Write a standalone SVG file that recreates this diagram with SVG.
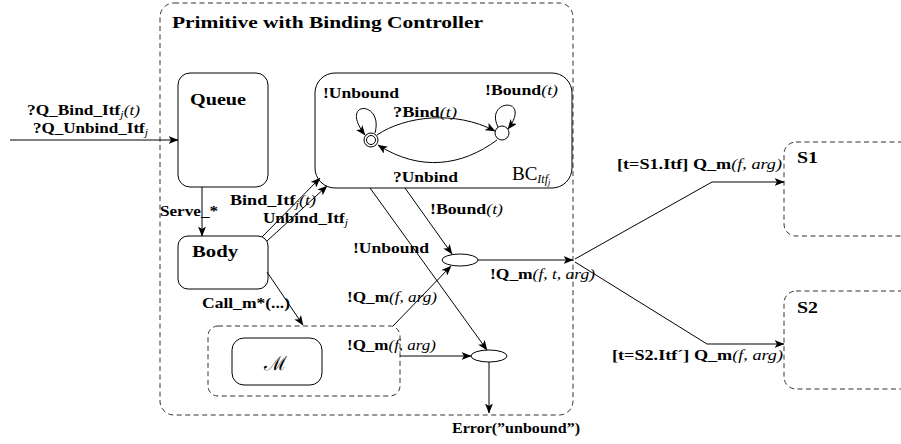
<svg xmlns="http://www.w3.org/2000/svg" width="901" height="444" viewBox="0 0 901 444">
<style>
text{font-family:"Liberation Serif","Times New Roman",serif;font-weight:bold;font-size:14.5px;fill:#000}
.t{font-size:16px}
.big{font-size:17.5px}
.i{font-style:italic;font-weight:normal}
.r{font-weight:normal}
.s{font-size:10px;font-style:italic;font-weight:normal}
.box{fill:none;stroke:#000;stroke-width:1}
.dash{fill:none;stroke:#333;stroke-width:1;stroke-dasharray:5 3.5}
.ln{fill:none;stroke:#000;stroke-width:1}
.arr{marker-end:url(#a)}
</style>
<defs>
<marker id="a" viewBox="0 0 10 8" refX="9.5" refY="4" markerWidth="10" markerHeight="8" orient="auto" markerUnits="userSpaceOnUse">
<path d="M0,0 L10,4 L0,8 L2.5,4 z" fill="#000"/>
</marker>
</defs>
<rect width="901" height="444" fill="#fff"/>

<g id="primitive">
<rect class="dash" x="160" y="3" width="413" height="412" rx="14"/>
<text class="t" x="172" y="28" textLength="311" lengthAdjust="spacingAndGlyphs">Primitive with Binding Controller</text>
</g>

<g id="queue">
<rect class="box" x="178" y="73" width="90" height="114" rx="12"/>
<text class="big" x="190" y="105" textLength="56" lengthAdjust="spacingAndGlyphs">Queue</text>
</g>

<g id="body">
<rect class="box" x="178" y="236" width="90" height="53" rx="10"/>
<text class="big" x="192" y="257" textLength="46" lengthAdjust="spacingAndGlyphs">Body</text>
</g>

<g id="bc">
<rect class="box" x="315" y="73" width="257" height="115" rx="20"/>
<circle class="box" cx="371" cy="140" r="7"/>
<circle class="box" cx="371" cy="140" r="4.5"/>
<circle class="box" cx="502" cy="133" r="7"/>
<path class="ln arr" d="M377,135 C405,116 455,110 495,131"/>
<path class="ln arr" d="M497,140 C462,166 420,172 378,145"/>
<path class="ln arr" d="M375,133 C384,100 338,100 365,135"/>
<path class="ln arr" d="M498,127 C484,99 533,96 508,129"/>
<text x="323" y="98" textLength="76" lengthAdjust="spacingAndGlyphs">!Unbound</text>
<text x="485" y="95" textLength="73" lengthAdjust="spacingAndGlyphs">!Bound<tspan class="i">(t)</tspan></text>
<text x="393" y="117" textLength="64" lengthAdjust="spacingAndGlyphs">?Bind<tspan class="i">(t)</tspan></text>
<text x="393" y="182" textLength="65" lengthAdjust="spacingAndGlyphs">?Unbind</text>
<text x="512" y="180" class="r" style="font-size:19px">BC<tspan class="s" dy="3" style="font-size:12px">Itf</tspan><tspan class="s" dy="2" style="font-size:8.5px">j</tspan></text>
</g>

<g id="m">
<rect class="dash" x="208" y="326" width="192" height="70" rx="10"/>
<rect class="box" x="232" y="338" width="90" height="47" rx="12"/>
<text x="264" y="370" class="i" style="font-family:'DejaVu Serif','Noto Sans',serif;font-size:20px">ℳ</text>
</g>

<g id="join1">
<ellipse class="box" cx="460" cy="260" rx="18" ry="6"/>
</g>
<g id="join2">
<ellipse class="box" cx="489" cy="356" rx="18" ry="6"/>
</g>

<g id="s1">
<rect class="dash" x="784" y="142" width="150" height="94" rx="12"/>
<text class="t" x="797" y="163" textLength="21" lengthAdjust="spacingAndGlyphs">S1</text>
</g>
<g id="s2">
<rect class="dash" x="784" y="291" width="150" height="98" rx="12"/>
<text class="t" x="797" y="313" textLength="21" lengthAdjust="spacingAndGlyphs">S2</text>
</g>

<g id="connectors">
<path class="ln arr" d="M10,140 H178"/>
<path class="ln arr" d="M202,187 V236"/>
<path class="ln arr" d="M262,237 L320,178"/>
<path class="ln arr" d="M267,241 L327,186"/>
<path class="ln arr" d="M267,272 L303,325"/>
<path class="ln arr" d="M405,188 L452,254"/>
<path class="ln arr" d="M370,188 L487,350"/>
<path class="ln arr" d="M393,326 L451,266"/>
<path class="ln arr" d="M400,356 H471"/>
<path class="ln arr" d="M489,362 V413"/>
<path class="ln arr" d="M478,260 H573"/>
<path class="ln arr" d="M575,259 L712,182 H784"/>
<path class="ln arr" d="M575,262 L707,344 H784"/>
</g>

<g id="labels">
<text x="27" y="115" textLength="113" lengthAdjust="spacingAndGlyphs">?Q_Bind_Itf<tspan class="s" dy="3">j</tspan><tspan class="i" dy="-3">(t)</tspan></text>
<text x="33" y="133" textLength="115" lengthAdjust="spacingAndGlyphs">?Q_Unbind_Itf<tspan class="s" dy="3">j</tspan></text>
<text x="160" y="216" textLength="58" lengthAdjust="spacingAndGlyphs">Serve_*</text>
<text x="230" y="205" textLength="86" lengthAdjust="spacingAndGlyphs">Bind_Itf<tspan class="s" dy="3">j</tspan><tspan class="i" dy="-3">(t)</tspan></text>
<text x="263" y="223" textLength="85" lengthAdjust="spacingAndGlyphs">Unbind_Itf<tspan class="s" dy="3">j</tspan></text>
<text x="202" y="308" textLength="88" lengthAdjust="spacingAndGlyphs">Call_m*(...)</text>
<text x="430" y="214" textLength="73" lengthAdjust="spacingAndGlyphs">!Bound<tspan class="i">(t)</tspan></text>
<text x="353" y="253" textLength="76" lengthAdjust="spacingAndGlyphs">!Unbound</text>
<text x="347" y="302" textLength="90" lengthAdjust="spacingAndGlyphs">!Q_m<tspan class="i">(f, arg)</tspan></text>
<text x="347" y="350" textLength="89" lengthAdjust="spacingAndGlyphs">!Q_m<tspan class="i">(f, arg)</tspan></text>
<text x="490" y="279" textLength="105" lengthAdjust="spacingAndGlyphs">!Q_m<tspan class="i">(f, t, arg)</tspan></text>
<text x="452" y="433" textLength="128" lengthAdjust="spacingAndGlyphs">Error(”unbound”)</text>
<text x="617" y="169" textLength="165" lengthAdjust="spacingAndGlyphs">[t=S1.Itf] Q_m<tspan class="i">(f, arg)</tspan></text>
<text x="612" y="360" textLength="171" lengthAdjust="spacingAndGlyphs">[t=S2.Itf´] Q_m<tspan class="i">(f, arg)</tspan></text>
</g>
</svg>
